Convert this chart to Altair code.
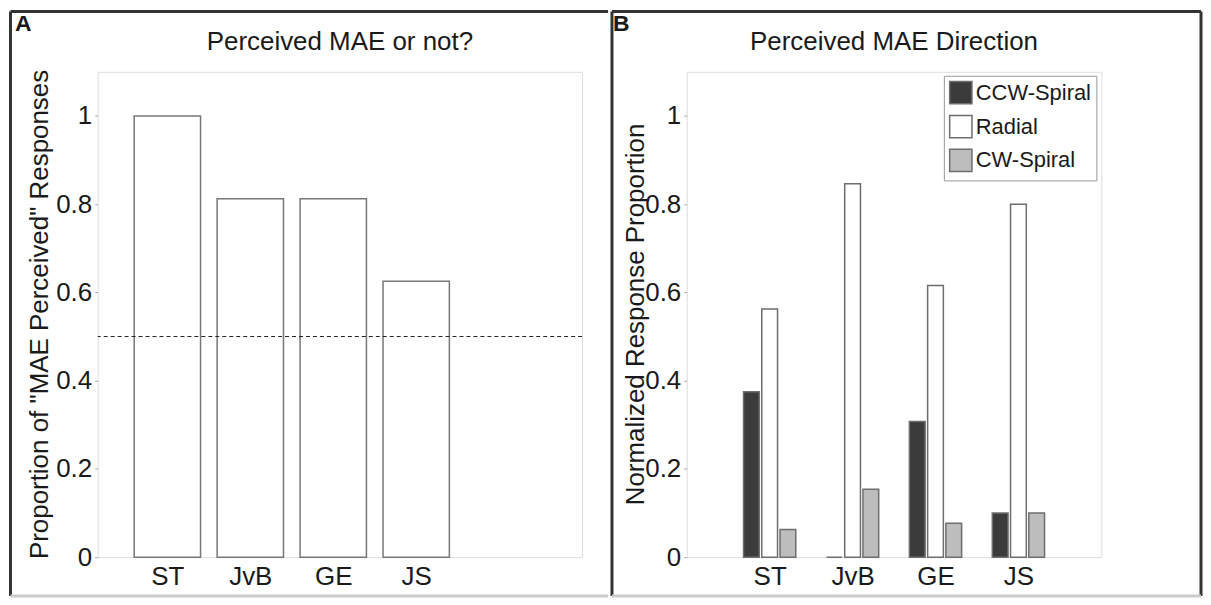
import json
import altair as alt
import pandas as pd

# ---- data ----
categories = ["ST", "JvB", "GE", "JS"]
mae_perceived = [1.0, 0.8125, 0.8125, 0.625]
series_names = ["CCW-Spiral", "Radial", "CW-Spiral"]
ccw_spiral = [0.375, 0.0, 0.3077, 0.1]
radial = [0.5625, 0.8462, 0.6154, 0.8]
cw_spiral = [0.0625, 0.1538, 0.0769, 0.1]
series_fill = ["#3b3b3b", "#ffffff", "#bdbdbd"]
y_ticks = [0, 0.2, 0.4, 0.6, 0.8, 1]
chance_level = [0.5]

FONT = "Liberation Sans"
TXT = "#1a1a1a"
FS = 26
PW_A, PW_B, PH = 486, 487 - 71, 487

label_expr = json.dumps(categories) + "[datum.value - 1]"

df_a = pd.DataFrame({"cat": categories, "pos": [i + 1 for i in range(len(categories))],
                     "val": mae_perceived})
rows = []
for si, (name, vals) in enumerate(zip(series_names, [ccw_spiral, radial, cw_spiral])):
    for ci, c in enumerate(categories):
        rows.append({"cat": c, "pos": ci + 1, "series": name, "sidx": si, "val": vals[ci]})
df_b = pd.DataFrame(rows)

yscale = alt.Scale(domain=[0, 1.1], nice=False, zero=True)
yaxis = alt.Axis(values=y_ticks, format="~g", title=None, domain=False, grid=False,
                 tickSize=3, tickColor="#aaaaaa", labelFontSize=FS, labelFont=FONT,
                 labelColor=TXT, labelPadding=3)


def xaxis():
    return alt.Axis(values=[1, 2, 3, 4], labelExpr=label_expr, title=None, domain=False,
                    grid=False, ticks=False, labelFontSize=FS, labelFont=FONT,
                    labelColor=TXT, labelPadding=6)


def hrule(x1, x2, y, w=3, color="#333333"):
    return alt.Chart(pd.DataFrame({"k": [0]})).mark_rule(
        color=color, strokeWidth=w).encode(
        x=alt.value(x1), x2=alt.value(x2), y=alt.value(y))


def vrule(x, y1, y2, w=3, color="#333333"):
    return alt.Chart(pd.DataFrame({"k": [0]})).mark_rule(
        color=color, strokeWidth=w).encode(
        x=alt.value(x), y=alt.value(y1), y2=alt.value(y2))


def text(s, x, y, size=FS, weight="normal", angle=0, align="center"):
    return alt.Chart(pd.DataFrame({"t": [s]})).mark_text(
        font=FONT, fontSize=size, fontWeight=weight, color=TXT, angle=angle,
        align=align, baseline="middle").encode(
        text="t:N", x=alt.value(x), y=alt.value(y))


TOP = -60.5
BOT = 526

# ---- Panel A ----
xa = alt.Scale(domain=[0.16, 6.0], nice=False, zero=False)
bars_a = alt.Chart(df_a).transform_calculate(
    x1="datum.pos - 0.4", x2="datum.pos + 0.4"
).mark_bar(fill="white", stroke="#777777", strokeWidth=1.5).encode(
    x=alt.X("x1:Q", scale=xa, axis=xaxis()),
    x2="x2:Q",
    y=alt.Y("val:Q", scale=yscale, axis=yaxis),
    y2=alt.datum(0),
)
dash = alt.Chart(pd.DataFrame({"y": chance_level})).mark_rule(
    color="#222222", strokeWidth=1, strokeDash=[4, 3]).encode(
    y=alt.Y("y:Q", scale=yscale))

panel_a = alt.layer(
    bars_a, dash,
    text("Perceived MAE or not?", PW_A / 2, -30),
    text('Proportion of "MAE Perceived" Responses', -58, PH / 2, angle=270),
    text("A", -83, -48, size=23, weight="bold", align="left"),
    vrule(-87.5, TOP, BOT),
    hrule(-87.5, 512, TOP),
    hrule(-87.5, 512, BOT, color="#cccccc"),
).properties(width=PW_A, height=PH)

# ---- Panel B ----
xb = alt.Scale(domain=[0, 5], nice=False, zero=False)
bars_b = alt.Chart(df_b).transform_calculate(
    c="datum.pos + (datum.sidx - 1) * 0.22",
    x1="datum.c - 0.095", x2="datum.c + 0.095"
).mark_bar(stroke="#6e6e6e", strokeWidth=1.5).encode(
    x=alt.X("x1:Q", scale=xb, axis=xaxis()),
    x2="x2:Q",
    y=alt.Y("val:Q", scale=yscale, axis=yaxis),
    y2=alt.datum(0),
    fill=alt.Fill("series:N",
                  scale=alt.Scale(domain=series_names, range=series_fill),
                  legend=alt.Legend(
                      title=None, orient="none", legendX=849, legendY=4,
                      direction="vertical", symbolType="square", symbolSize=500,
                      symbolStrokeColor="#6e6e6e", symbolStrokeWidth=1.5,
                      labelFontSize=22, labelFont=FONT, labelColor=TXT,
                      labelOffset=3, rowPadding=4, padding=5,
                      strokeColor="#999999", fillColor="white")),
)

panel_b = alt.layer(
    bars_b,
    text("Perceived MAE Direction", PW_B / 2, -30),
    text("Normalized Response Proportion", -51, PH / 2, angle=270),
    text("B", -74, -48, size=23, weight="bold", align="left"),
    vrule(-75, TOP, BOT),
    vrule(516, TOP, BOT),
    hrule(-75, 516, TOP),
    hrule(-75, 516, BOT, color="#cccccc"),
).properties(width=PW_B, height=PH)

chart = alt.hconcat(panel_a, panel_b, spacing=0).properties(
    padding=0
).configure_view(stroke="#aaaaaa", strokeWidth=1.5).configure(background="white")

chart.save("out.html", embed_options={"renderer": "svg", "actions": False})
